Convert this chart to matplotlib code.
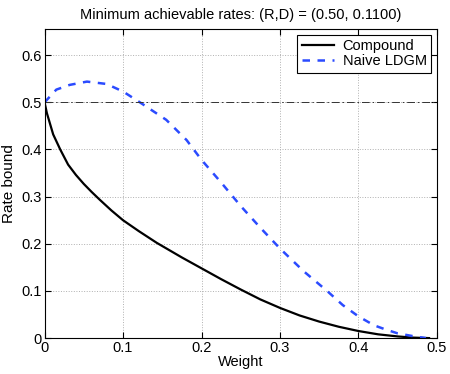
import matplotlib.pyplot as plt

# values
compound_w = [0, 0.003, 0.011, 0.02, 0.03, 0.04, 0.05, 0.06, 0.07, 0.085, 0.1, 0.12, 0.143, 0.175, 0.2,
              0.225, 0.25, 0.275, 0.3, 0.325, 0.35, 0.375, 0.4, 0.425, 0.45, 0.47, 0.49]
compound_r = [0.5, 0.477, 0.432, 0.40, 0.368, 0.346, 0.327, 0.31, 0.294, 0.271, 0.25, 0.227, 0.202, 0.171, 0.148,
              0.125, 0.103, 0.082, 0.064, 0.048, 0.035, 0.024, 0.015, 0.008, 0.0035, 0.001, 0]

naive_w = [0, 0.015, 0.032, 0.054, 0.079, 0.1, 0.1215, 0.155, 0.181, 0.2, 0.225, 0.25, 0.275, 0.3,
           0.33, 0.36, 0.38, 0.4, 0.42, 0.435, 0.45, 0.47, 0.486]
naive_r = [0.5, 0.527, 0.537, 0.544, 0.539, 0.523, 0.5, 0.463, 0.42, 0.378, 0.33, 0.28, 0.234, 0.19,
           0.142, 0.1, 0.07, 0.046, 0.027, 0.018, 0.01, 0.004, 0]

target_rate = 0.5
x_ticks = [0, 0.1, 0.2, 0.3, 0.4, 0.5]
y_ticks = [0, 0.1, 0.2, 0.3, 0.4, 0.5, 0.6]

plt.rcParams['font.family'] = ['Liberation Sans', 'DejaVu Sans']
plt.rcParams['font.size'] = 10

fig = plt.figure(figsize=(4.5, 3.74), dpi=100)
ax = fig.add_axes([0.099, 0.096, 0.872, 0.827])

ax.plot(compound_w, compound_r, color='black', lw=1.6, label='Compound')
ax.plot(naive_w, naive_r, color='#2b4bff', lw=1.8, ls=(0, (3, 3)), label='Naive LDGM')
ax.plot([0, 0.5], [target_rate, target_rate], color='#333333', lw=0.7, ls=(0, (8, 3, 1.5, 3)))

ax.set_xlim(0, 0.5)
ax.set_ylim(0, 0.656)
ax.set_xticks(x_ticks)
ax.set_yticks(y_ticks)
ax.set_xticklabels(['0', '0.1', '0.2', '0.3', '0.4', '0.5'])
ax.set_yticklabels(['0', '0.1', '0.2', '0.3', '0.4', '0.5', '0.6'])
ax.tick_params(direction='in', top=True, right=True, length=4, labelsize=10.5, pad=2)
ax.grid(True, ls=':', color='#b0b0b0', lw=0.7)
for s in ax.spines.values():
    s.set_linewidth(0.8)

ax.set_xlabel('Weight', fontsize=10.5, labelpad=0)
ax.set_ylabel('Rate bound', fontsize=11, labelpad=4)
ax.set_title('Minimum achievable rates: (R,D) = (0.50, 0.1100)', fontsize=10.5, pad=7)

leg = ax.legend(loc='upper right', fancybox=False, framealpha=1, edgecolor='black',
                handlelength=2.2, borderaxespad=0.4, fontsize=10.5,
                borderpad=0.3, labelspacing=0.1, handletextpad=0.6)
leg.get_frame().set_linewidth(0.8)

fig.savefig('out.png', dpi=100)
